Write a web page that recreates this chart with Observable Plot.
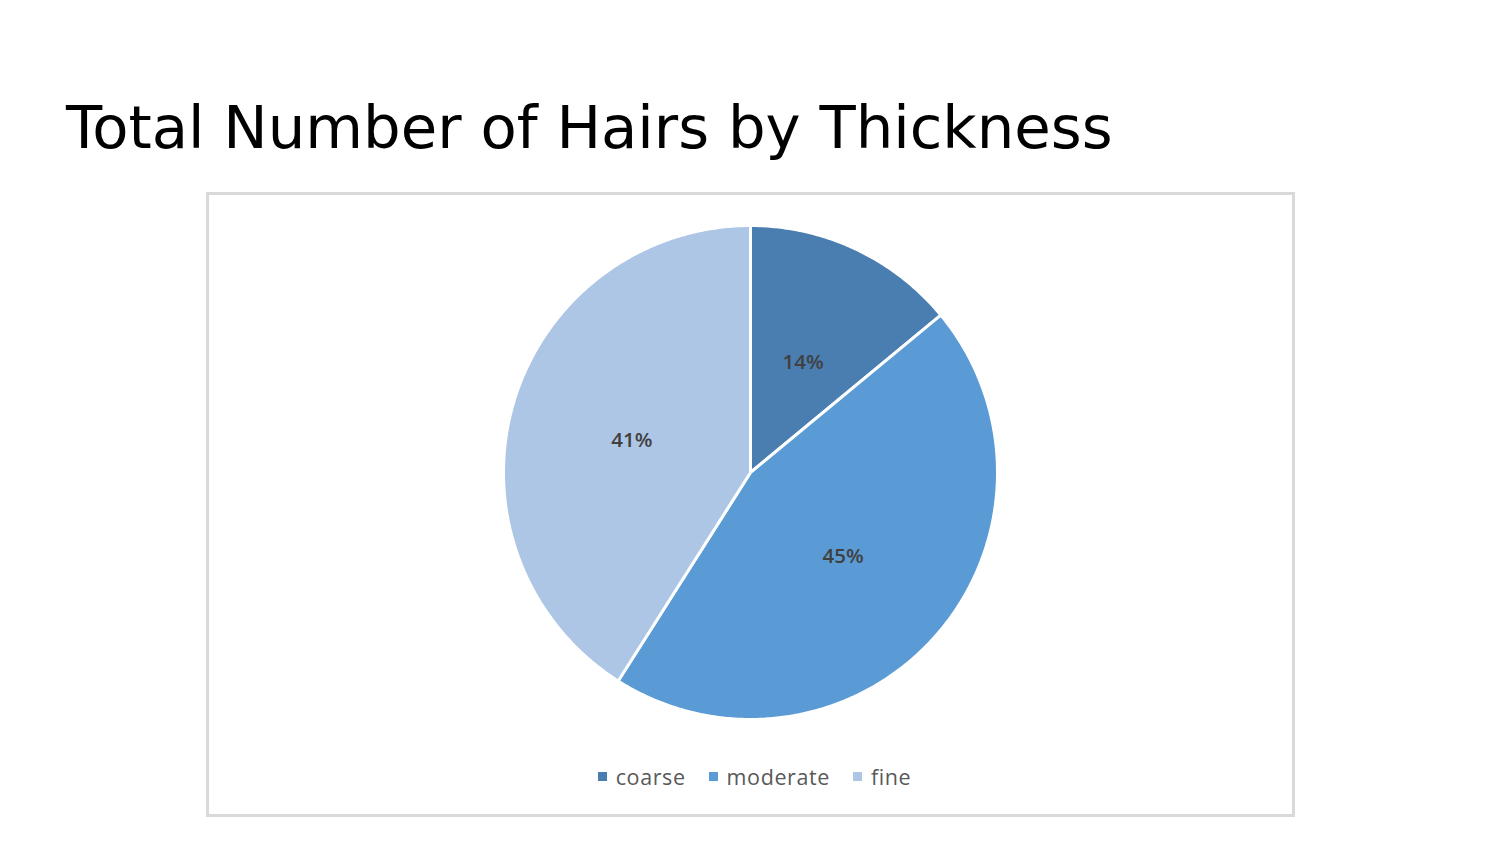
<!DOCTYPE html>
<html><head><meta charset="utf-8">
<script src="https://cdn.jsdelivr.net/npm/d3@7"></script>
<script src="https://cdn.jsdelivr.net/npm/@observablehq/plot@0.6"></script>
<style>
html,body{margin:0;padding:0;background:#fff;}
#page{position:relative;width:1500px;height:844px;overflow:hidden;}
#title{position:absolute;left:66px;top:98px;font-family:"DejaVu Sans",sans-serif;font-size:59.3px;color:#000;white-space:nowrap;line-height:1;}
#chart{position:absolute;left:206px;top:192px;}
#legend{position:absolute;left:210px;width:1089px;top:762px;display:flex;justify-content:center;}
#legend span{font-family:"Open Sans",sans-serif;font-size:21.5px;color:#595959;letter-spacing:0.6px;}
</style></head>
<body><div id="page"><div id="title">Total Number of Hairs by Thickness</div><div id="chart"></div><div id="legend"></div></div>
<script>
const categories = ["coarse", "moderate", "fine"];
const values = [14, 45, 41];
const colors = ["#4a7eb0", "#5b9bd5", "#adc6e5"];

const arcs = d3.pie().sort(null).value((d, i) => values[i])(categories);
const poly = [];
const labels = [];
arcs.forEach((a, i) => {
  const cat = categories[i];
  poly.push({cat, x: 0, y: 0});
  const n = Math.max(2, Math.ceil((a.endAngle - a.startAngle) / (Math.PI / 360)));
  for (let k = 0; k <= n; k++) {
    const t = a.startAngle + (a.endAngle - a.startAngle) * k / n;
    poly.push({cat, x: Math.sin(t), y: Math.cos(t)});
  }
  poly.push({cat, x: 0, y: 0});
  const m = (a.startAngle + a.endAngle) / 2;
  labels.push({cat, x: 0.5 * Math.sin(m), y: 0.5 * Math.cos(m), text: Math.round(a.value / d3.sum(values) * 100) + "%"});
});

const W = 1089, H = 625;
const plot = Plot.plot({
  width: W, height: H,
  marginLeft: 297, marginRight: 298, marginTop: 33, marginBottom: 98,
  x: {domain: [-1, 1], axis: null},
  y: {domain: [-1, 1], axis: null},
  color: {domain: categories, range: colors},
  style: {background: "#fff"},
  marks: [
    Plot.line(poly, {x: "x", y: "y", z: "cat", fill: "cat", stroke: "#fff", strokeWidth: 3, curve: "linear"}),
    Plot.text(labels, {x: "x", y: "y", dy: 2, text: "text", fill: "#404040", fontSize: 20.5, fontWeight: 600, fontFamily: "Open Sans, sans-serif"})
  ]
});
plot.style.outline = "3px solid #d9d9d9";
plot.style.outlineOffset = "-3px";
document.getElementById("chart").appendChild(plot);

const lg = document.getElementById("legend");
categories.forEach((c, i) => {
  const item = document.createElement("span");
  item.style.display = "inline-flex";
  item.style.alignItems = "center";
  item.style.marginRight = i < categories.length - 1 ? "23px" : "0";
  item.innerHTML = `<i style="display:inline-block;width:9px;height:9px;background:${colors[i]};margin-right:9px"></i>${c}`;
  lg.appendChild(item);
});
</script></body></html>
